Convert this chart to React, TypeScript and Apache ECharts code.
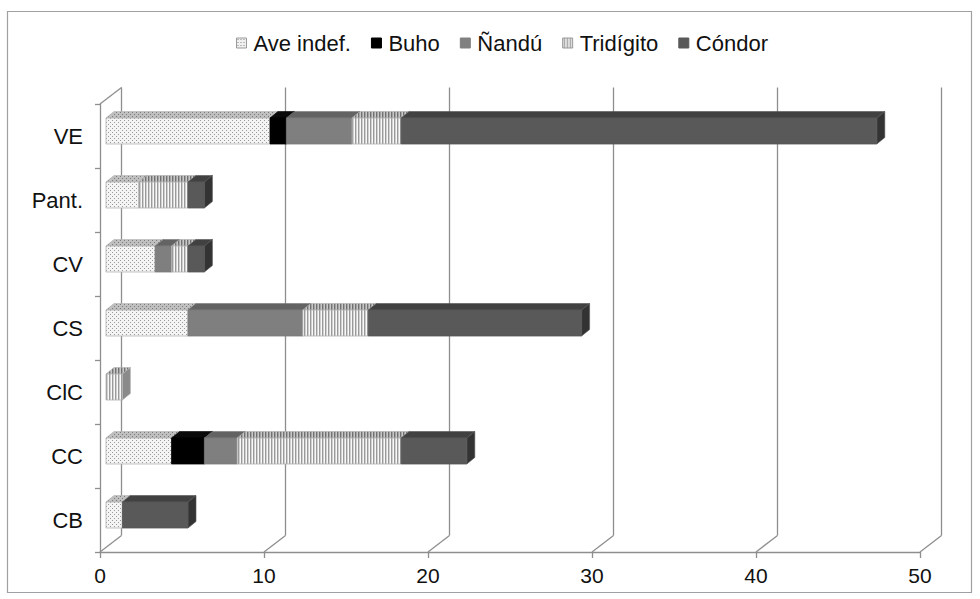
import React, { useEffect, useRef } from "react";
import * as echarts from "echarts";

const categories = ["CB", "CC", "ClC", "CS", "CV", "Pant.", "VE"];
const seriesNames = ["Ave indef.", "Buho", "Ñandú", "Tridígito", "Cóndor"];
const aveIndef = [1, 4, 0, 5, 3, 2, 10];
const buho = [0, 2, 0, 0, 0, 0, 1];
const nandu = [0, 2, 0, 7, 1, 0, 4];
const tridigito = [0, 10, 1, 4, 1, 3, 3];
const condor = [4, 4, 0, 13, 1, 1, 29];
const xTicks = [0, 10, 20, 30, 40, 50];

const FONT = "'Liberation Sans', Arial, sans-serif";
// 3D geometry (styling constants)
const WALL_DX = 21.5;
const WALL_DY = -16.5;
const FRONT_DX = 6;
const FRONT_DY = -5;
const BAR_H = 26;
const DEPTH_DX = 8;
const DEPTH_DY = -6.5;

function makePattern(w: number, h: number, bg: string, marks: [number, number, number, number, string][]) {
  const c = document.createElement("canvas");
  c.width = w;
  c.height = h;
  const ctx = c.getContext("2d")!;
  ctx.fillStyle = bg;
  ctx.fillRect(0, 0, w, h);
  marks.forEach(([x, y, mw, mh, col]) => {
    ctx.fillStyle = col;
    ctx.fillRect(x, y, mw, mh);
  });
  return { image: c, repeat: "repeat", imageWidth: w, imageHeight: h } as any;
}

export default function App() {
  const ref = useRef<HTMLDivElement>(null);
  useEffect(() => {
    if (!ref.current) return;
    const chart = echarts.init(ref.current, undefined, { renderer: "svg" });

    const dotsFront = makePattern(4, 4, "#f4f4f4", [[0, 0, 1, 1, "#9a9a9a"], [2, 2, 1, 1, "#9a9a9a"]]);
    const dotsTop = makePattern(4, 4, "#c0c0c0", [[0, 0, 1, 1, "#7a7a7a"], [2, 2, 1, 1, "#7a7a7a"]]);
    const stripesFront = makePattern(3, 4, "#d0d0d0", [[0, 0, 1, 4, "#f8f8f8"], [1, 0, 1, 4, "#9a9a9a"]]);
    const stripesTop = makePattern(3, 4, "#a4a4a4", [[0, 0, 1, 4, "#c8c8c8"], [1, 0, 1, 4, "#707070"]]);
    const legendDots = makePattern(3, 3, "#f0f0f0", [[1, 1, 1, 1, "#888"]]);

    const faces = [
      { front: dotsFront, top: dotsTop, side: "#bdbdbd", edge: "#b4b4b4", legend: legendDots },
      { front: "#000000", top: "#0a0a0a", side: "#000000", edge: "#000000", legend: "#000000" },
      { front: "#7f7f7f", top: "#636363", side: "#555555", edge: "#7a7a7a", legend: "#808080" },
      { front: stripesFront, top: stripesTop, side: "#8a8a8a", edge: "#b0b0b0", legend: stripesFront },
      { front: "#595959", top: "#414141", side: "#333333", edge: "#555555", legend: "#595959" },
    ];

    const values = [aveIndef, buho, nandu, tridigito, condor];
    const cum = categories.map(() => 0);
    const barData = values.map((arr) =>
      arr.map((v, i) => {
        const s = cum[i];
        cum[i] += v;
        return [s, s + v, i];
      })
    );

    const renderBar = (fi: number) => (params: any, api: any) => {
      const s = api.value(0);
      const e = api.value(1);
      const ci = api.value(2);
      if (e <= s) return null;
      const a = api.coord([s, ci]);
      const b = api.coord([e, ci]);
      const x0 = a[0] + FRONT_DX;
      const x1 = b[0] + FRONT_DX;
      const yc = a[1] + FRONT_DY;
      const yt = yc - BAR_H / 2;
      const yb = yc + BAR_H / 2;
      const f = faces[fi];
      return {
        type: "group",
        children: [
          {
            type: "polygon",
            shape: { points: [[x0, yt], [x1, yt], [x1 + DEPTH_DX, yt + DEPTH_DY], [x0 + DEPTH_DX, yt + DEPTH_DY]] },
            style: { fill: f.top, stroke: f.edge, lineWidth: 0.6 },
          },
          {
            type: "polygon",
            shape: { points: [[x1, yt], [x1 + DEPTH_DX, yt + DEPTH_DY], [x1 + DEPTH_DX, yb + DEPTH_DY], [x1, yb]] },
            style: { fill: f.side, stroke: f.edge, lineWidth: 0.6 },
          },
          {
            type: "rect",
            shape: { x: x0, y: yt, width: x1 - x0, height: yb - yt },
            style: { fill: f.front, stroke: f.edge, lineWidth: 0.8 },
          },
        ],
      };
    };

    const renderWall = (params: any, api: any) => {
      const v = api.value(0);
      const pBot = api.coord([v, 0]);
      const pTop = api.coord([v, categories.length - 1]);
      const band = api.size([0, 1])[1];
      const x = pBot[0];
      const yBottom = pBot[1] + band / 2;
      const yTop = pTop[1] - band / 2;
      const st = { stroke: "#8e8e8e", lineWidth: 1.3 };
      const children: any[] = [
        { type: "line", shape: { x1: x + WALL_DX, y1: yTop + WALL_DY, x2: x + WALL_DX, y2: yBottom + WALL_DY }, style: st },
        { type: "line", shape: { x1: x, y1: yBottom, x2: x + WALL_DX, y2: yBottom + WALL_DY }, style: st },
      ];
      if (v === xTicks[0]) {
        children.push({ type: "line", shape: { x1: x, y1: yTop, x2: x + WALL_DX, y2: yTop + WALL_DY }, style: st });
      }
      return { type: "group", children };
    };

    const option: any = {
      animation: false,
      backgroundColor: "#ffffff",
      textStyle: { fontFamily: FONT },
      graphic: [
        {
          type: "rect",
          shape: { x: 7.5, y: 11.5, width: 964, height: 581 },
          style: { fill: "none", stroke: "#a0a0a0", lineWidth: 1.2 },
          silent: true,
        },
      ],
      legend: {
        top: 32,
        left: 236,
        itemWidth: 10,
        itemHeight: 10,
        itemGap: 20,
        icon: "rect",
        padding: 0,
        data: seriesNames.map((n, i) => ({
          name: n,
          itemStyle: { color: faces[i].legend, borderColor: i === 0 || i === 3 ? "#999" : faces[i].legend, borderWidth: 1 },
        })),
        textStyle: { fontSize: 22, color: "#111", fontFamily: FONT, padding: [0, 0, 0, 2] },
      },
      grid: { left: 100, right: 60, top: 104, bottom: 47, outerBoundsMode: "none" },
      xAxis: {
        type: "value",
        min: 0,
        max: 50,
        interval: 10,
        axisLine: { show: true, lineStyle: { color: "#8e8e8e", width: 1.3 } },
        axisTick: { show: true, length: 6, lineStyle: { color: "#8e8e8e", width: 1.3 } },
        splitLine: { show: false },
        axisLabel: { fontSize: 21, color: "#111", margin: 13, fontFamily: FONT },
      },
      yAxis: {
        type: "category",
        data: categories,
        axisLine: { show: true, lineStyle: { color: "#8e8e8e", width: 1.3 } },
        axisTick: { show: true, length: 5, lineStyle: { color: "#8e8e8e", width: 1.3 } },
        splitLine: { show: false },
        axisLabel: { fontSize: 22, color: "#111", margin: 17, fontFamily: FONT },
      },
      series: [
        {
          type: "custom",
          name: "walls",
          silent: true,
          renderItem: renderWall,
          encode: { x: 0, y: 1 },
          data: xTicks.map((v) => [v, 0]),
          z: 1,
        },
        ...seriesNames.map((n, i) => ({
          type: "custom",
          name: n,
          renderItem: renderBar(i),
          encode: { x: [0, 1], y: 2 },
          itemStyle: { color: faces[i].legend },
          data: barData[i],
          z: 2,
        })),
      ],
    };
    chart.setOption(option);
    return () => chart.dispose();
  }, []);
  return (
    <div
      ref={ref}
      style={{ position: "fixed", left: 0, top: 0, width: 980, height: 599, background: "#fff" }}
    />
  );
}
